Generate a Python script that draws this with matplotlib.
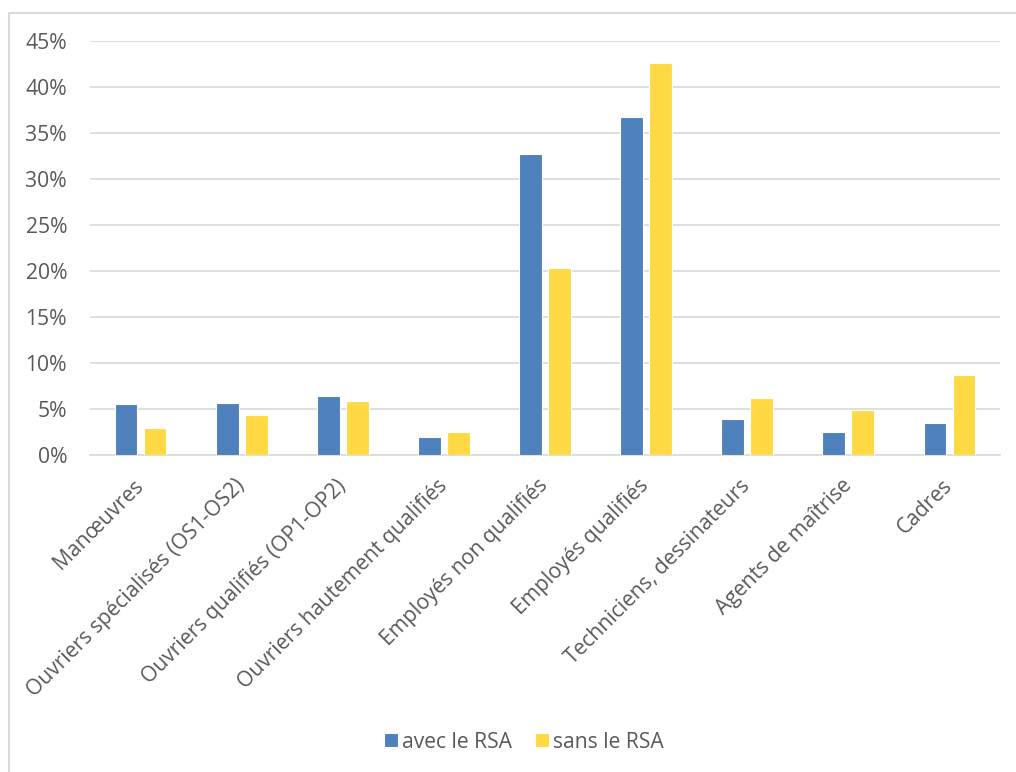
import numpy as np
from matplotlib import pyplot as plt
from matplotlib.patches import Rectangle
from matplotlib.ticker import PercentFormatter

categories = [
    "Manœuvres",
    "Ouvriers spécialisés (OS1-OS2)",
    "Ouvriers qualifiés (OP1-OP2)",
    "Ouvriers hautement qualifiés",
    "Employés non qualifiés",
    "Employés qualifiés",
    "Techniciens, dessinateurs",
    "Agents de maîtrise",
    "Cadres",
]
avec_rsa = [5.5, 5.7, 6.4, 2.0, 32.7, 36.7, 3.9, 2.5, 3.5]
sans_rsa = [2.9, 4.3, 5.9, 2.5, 20.3, 42.6, 6.2, 4.9, 8.7]
series_names = ["avec le RSA", "sans le RSA"]

BLUE = "#4F81BD"
YELLOW = "#FFD944"
TEXT = "#595959"
GRID = "#D9D9D9"
FS = 15.2

plt.rcParams["font.family"] = ["Open Sans", "DejaVu Sans"]

fig = plt.figure(figsize=(10.16, 7.72), dpi=100)
ax = fig.add_axes([90 / 1016, 1 - 455 / 772, 910 / 1016, 414 / 772])

# chart area frame (cropped on the right and bottom in the reference)
fig.patches.append(Rectangle((9 / 1016, -0.1), 1.2, 1 - 13 / 772 + 0.1,
                             transform=fig.transFigure, fill=False,
                             edgecolor=GRID, linewidth=1.5))

x = np.arange(len(categories))
w = 0.225
ax.bar(x - 0.143, avec_rsa, w, color=BLUE, edgecolor="white", linewidth=0.8,
       label=series_names[0], zorder=3)
ax.bar(x + 0.143, sans_rsa, w, color=YELLOW, edgecolor="white", linewidth=0.8,
       label=series_names[1], zorder=3)

ax.set_xlim(-0.5, len(categories) - 0.5)
ax.set_ylim(0, 45)
ax.set_yticks(np.arange(0, 46, 5))
ax.yaxis.set_major_formatter(PercentFormatter(decimals=0))
ax.grid(axis="y", color=GRID, linewidth=1.2, zorder=0)
for side in ["top", "right", "left"]:
    ax.spines[side].set_visible(False)
ax.spines["bottom"].set_color(GRID)
ax.spines["bottom"].set_linewidth(1.2)

ax.set_xticks(x)
ax.set_xticklabels(categories, rotation=45, ha="right", va="center",
                   rotation_mode="anchor")
ax.tick_params(axis="x", length=0, pad=20, labelsize=FS, labelcolor=TEXT)
ax.tick_params(axis="y", length=0, pad=16.5, labelsize=FS, labelcolor=TEXT)

fig.legend(loc="center", bbox_to_anchor=(524 / 1016, 1 - 742 / 772), ncol=2,
           frameon=False, fontsize=FS, labelcolor=TEXT, handlelength=0.65,
           handleheight=0.65, handletextpad=0.2, columnspacing=1.1)

fig.savefig("out.png", dpi=100)
